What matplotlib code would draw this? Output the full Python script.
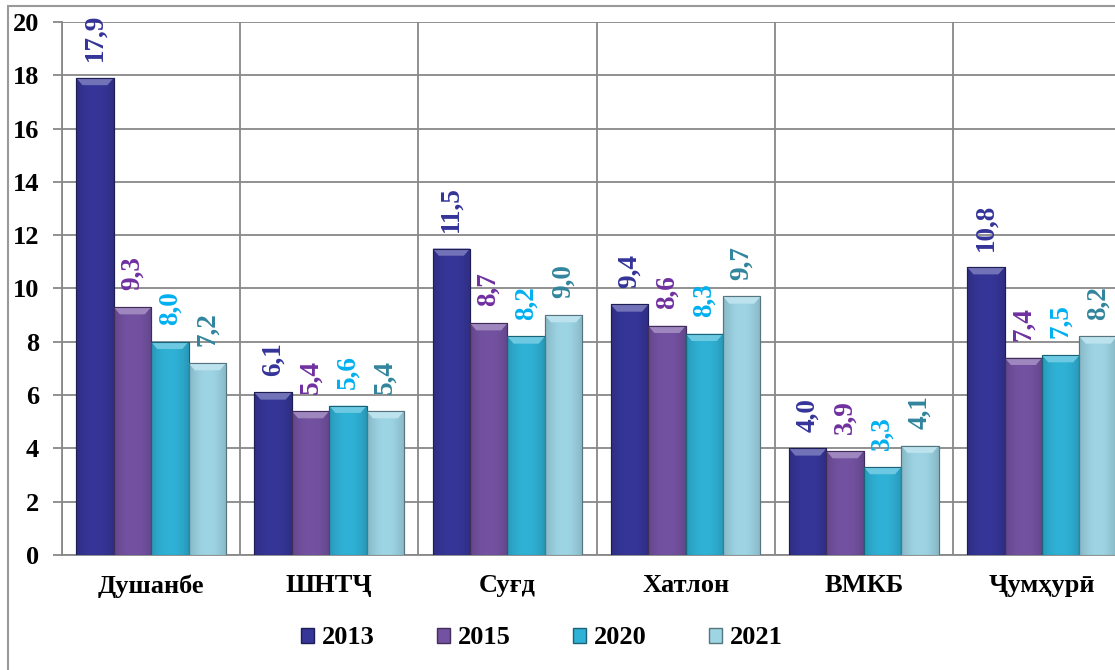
import numpy as np
import matplotlib
matplotlib.use("Agg")
import matplotlib.pyplot as plt
from matplotlib.patches import Rectangle, Polygon
from matplotlib.colors import to_rgb

categories = ["Душанбе", "ШНТҶ", "Суғд", "Хатлон", "ВМКБ", "Ҷумҳурӣ"]
years = ["2013", "2015", "2020", "2021"]
v2013 = [17.9, 6.1, 11.5, 9.4, 4.0, 10.8]
v2015 = [9.3, 5.4, 8.7, 8.6, 3.9, 7.4]
v2020 = [8.0, 5.6, 8.2, 8.3, 3.3, 7.5]
v2021 = [7.2, 5.4, 9.0, 9.7, 4.1, 8.2]
series = [v2013, v2015, v2020, v2021]

bar_colors = ["#363699", "#7452A2", "#2FB2D6", "#9ED5E5"]
label_colors = ["#343399", "#7030A0", "#00B0F0", "#31859C"]

FONT = "Liberation Serif"
plt.rcParams["font.family"] = [FONT, "DejaVu Serif"]
plt.rcParams["font.weight"] = "bold"

fig = plt.figure(figsize=(11.15, 6.7), dpi=100)
W, H = 1115, 670
ax = fig.add_axes([62 / W, 1 - 555 / H, 1 - 62 / W + 0.001, (555 - 22) / H])

x = np.arange(len(categories))
bw = 0.21
offsets = (np.arange(len(years)) - 1.5) * bw

def shade(c, f):
    r, g, b = to_rgb(c)
    if f <= 1:
        return (r * f, g * f, b * f)
    return (r + (1 - r) * (f - 1), g + (1 - g) * (f - 1), b + (1 - b) * (f - 1))

for i, (vals, col) in enumerate(zip(series, bar_colors)):
    bars = ax.bar(x + offsets[i], vals, width=bw, color=col,
                  edgecolor=shade(col, 0.55), linewidth=0.8, zorder=3,
                  label=years[i])
    for b in bars:
        x0, y0 = b.get_x(), b.get_y()
        w, h = b.get_width(), b.get_height()
        t = np.linspace(-1, 1, 64)
        fac = 1.0 - 0.15 * t ** 2
        grad = np.array([[shade(col, f) for f in fac]])
        im = ax.imshow(grad, extent=[x0, x0 + w, y0, y0 + h], aspect="auto",
                       zorder=3.5, interpolation="bilinear")
        im.set_clip_path(b)
        dy = 0.27
        dx = 0.035
        poly = Polygon([[x0, y0 + h], [x0 + w, y0 + h],
                        [x0 + w - dx, y0 + h - dy], [x0 + dx, y0 + h - dy]],
                       closed=True, facecolor=shade(col, 1.3),
                       edgecolor="none", zorder=3.6)
        ax.add_patch(poly)
        ax.add_patch(Rectangle((x0, y0), w, h, fill=False,
                               edgecolor=shade(col, 0.55), linewidth=0.8,
                               zorder=3.7))
        ax.annotate(f"{b.get_height():.1f}".replace(".", ","),
                    (x0 + w / 2, y0 + h), xytext=(0, 12),
                    textcoords="offset points", rotation=90,
                    ha="center", va="bottom", color=label_colors[i],
                    fontsize=19.5, fontweight="bold", zorder=5)

ax.set_ylim(0, 20)
ax.set_yticks(np.arange(0, 21, 2))
ax.set_xticks(x)
ax.set_xticklabels(categories, fontsize=19, fontweight="bold")
ax.set_xticks(np.arange(-0.5, len(categories), 1), minor=True)
ax.set_xlim(-0.5, -0.5 + (W - 62) / 178)
ax.tick_params(axis="x", which="both", length=0, pad=14)
ax.tick_params(axis="y", length=6.5, width=1.3, color="#888888",
               labelsize=19, pad=10)
for lab in ax.get_yticklabels():
    lab.set_fontweight("bold")
ax.grid(axis="y", which="major", color="#888888", linewidth=1.3, zorder=0)
ax.grid(axis="x", which="minor", color="#888888", linewidth=1.3, zorder=0)
ax.set_axisbelow(True)
for s in ["top", "right"]:
    ax.spines[s].set_visible(False)
for s in ["left", "bottom"]:
    ax.spines[s].set_color("#888888")
    ax.spines[s].set_linewidth(1.3)

fig.patches.append(Rectangle((8 / W, -0.1), 2, 1 - 6 / H + 0.1,
                             transform=fig.transFigure, fill=False,
                             edgecolor="#999999", linewidth=1.5))

handles = [Rectangle((0, 0), 1, 1, facecolor=c, edgecolor=shade(c, 0.55))
           for c in bar_colors]
fig.legend(handles, years, loc="center", bbox_to_anchor=(542 / W, 1 - 638 / H),
           ncol=4, frameon=False, handlelength=0.5, handleheight=0.5,
           handletextpad=0.3, columnspacing=2.35,
           prop={"family": FONT, "weight": "bold", "size": 19})

fig.savefig("out.png", dpi=100)
